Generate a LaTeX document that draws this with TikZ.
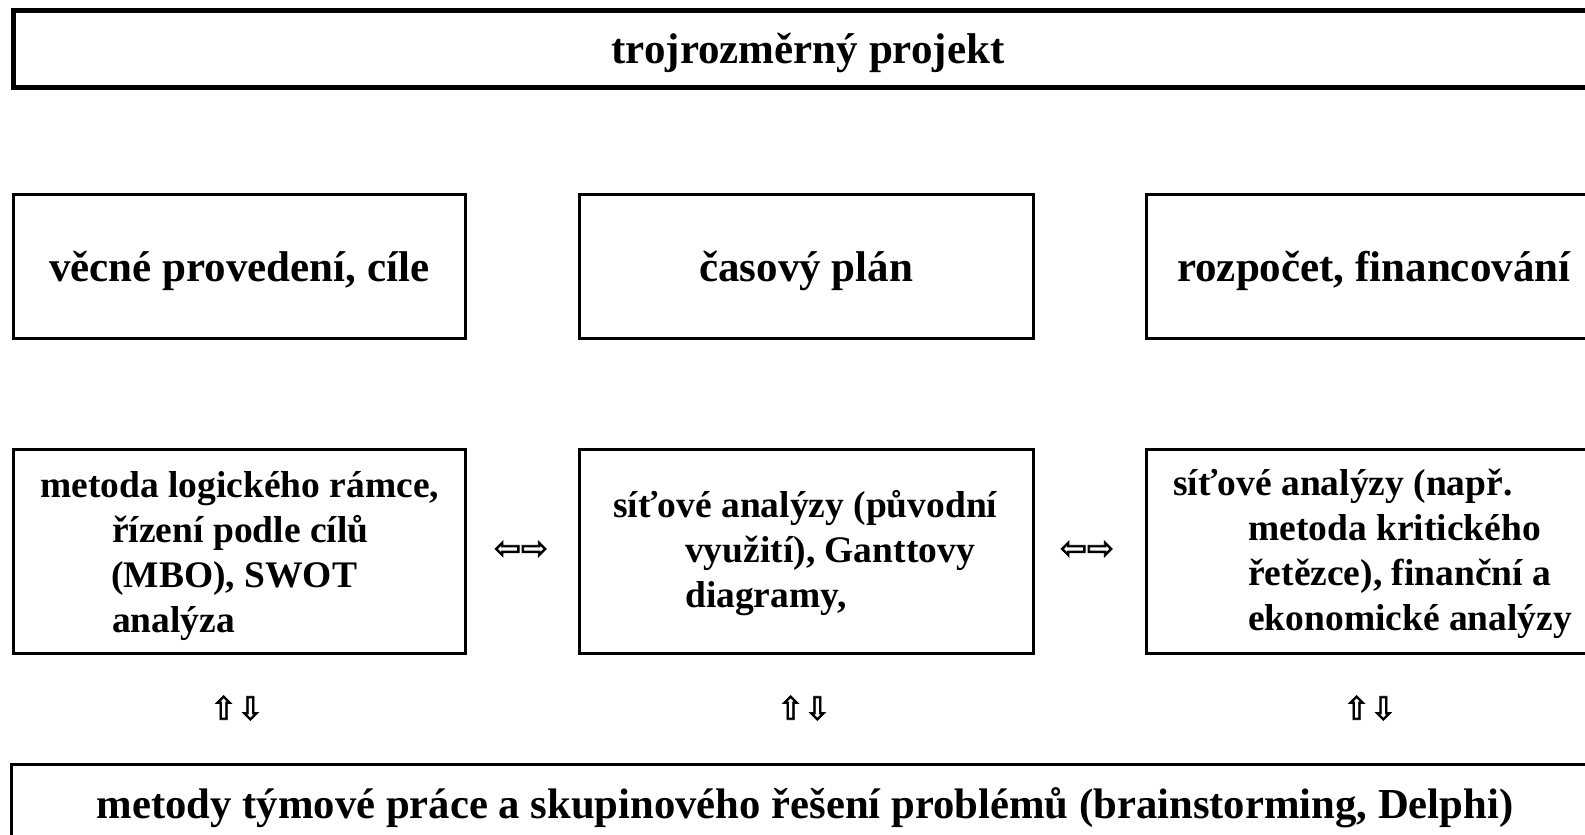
\documentclass[tikz,border=0pt]{standalone}
\usepackage{fontspec}
\setmainfont{Liberation Serif}
\newfontfamily\arrowfont[FakeBold=2.5]{DejaVu Sans}
\usetikzlibrary{positioning}

\begin{document}
\begin{tikzpicture}[x=1pt,y=-1pt,
  box/.style={draw, line width=2.5pt, rectangle, inner sep=0pt, anchor=north west},
  headtext/.style={font=\fontsize{43}{50}\selectfont\bfseries, text depth=0pt},
  methtext/.style={font=\fontsize{37.5}{45}\selectfont\bfseries, align=left, anchor=base west, inner sep=0pt},
  arrowsym/.style={font=\arrowfont\fontsize{32}{32}\selectfont, inner sep=0pt}]
  \useasboundingbox (0,0) rectangle (1585,835);
  \clip (0,0) rectangle (1585,835);

  % Create nodes
  \node[box, line width=5pt, minimum width=1590pt, minimum height=77pt, headtext] (project) at (10.5,7.5) {trojrozměrný projekt};

  \node[box, minimum width=452pt, minimum height=144pt, headtext] (scope) at (12,193) {věcné provedení, cíle};
  \node[box, minimum width=454pt, minimum height=144pt, headtext] (time) at (578,193) {časový plán};
  \node[box, minimum width=455pt, minimum height=144pt, headtext] (budget) at (1145,193) {rozpočet, financování};

  \node[box, minimum width=452pt, minimum height=204pt] (scopeM) at (12,448) {};
  \node[box, minimum width=454pt, minimum height=204pt] (timeM) at (578,448) {};
  \node[box, minimum width=455pt, minimum height=204pt] (budgetM) at (1145,448) {};

  \node[box, minimum width=1590pt, minimum height=100pt] (team) at (10,763) {};

  % texts of the method boxes (anchored at the last line)
  \node[methtext] (scopeMText) at (40,632) {metoda logického rámce,\\
    \hspace*{72pt}řízení podle cílů\\
    \hspace*{71pt}(MBO), SWOT\\
    \hspace*{72pt}analýza};
  \node[methtext] (timeMText) at (613,607) {síťové analýzy (původní\\
    \hspace*{72pt}využití), Ganttovy\\
    \hspace*{72pt}diagramy,};
  \node[methtext] (budgetMText) at (1173,630) {síťové analýzy (např.\\
    \hspace*{75pt}metoda kritického\\
    \hspace*{75pt}řetězce), finanční a\\
    \hspace*{75pt}ekonomické analýzy};
  \node[headtext, anchor=base, inner sep=0pt, font=\fontsize{42.7}{50}\selectfont\bfseries] (teamText) at (805,818) {metody týmové práce a skupinového řešení problémů (brainstorming, Delphi)};

  % arrows between the boxes
  \node[arrowsym] (scopeTime) at (521,550) {⇦⇨};
  \node[arrowsym] (timeBudget) at (1087,550) {⇦⇨};
  \node[arrowsym] (scopeTeam) at (237,708) {⇧⇩};
  \node[arrowsym] (timeTeam) at (804,708) {⇧⇩};
  \node[arrowsym] (budgetTeam) at (1370,708) {⇧⇩};
\end{tikzpicture}
\end{document}
